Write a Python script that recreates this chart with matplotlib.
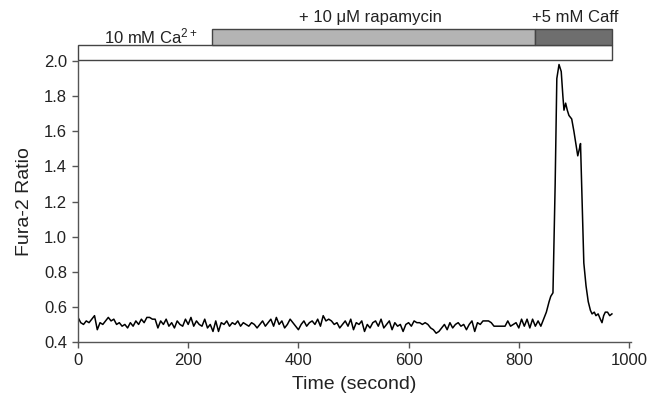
import numpy as np
import matplotlib
matplotlib.use('Agg')
import matplotlib.pyplot as plt
from matplotlib.patches import Rectangle

plt.rcParams['font.family'] = ['Liberation Sans', 'DejaVu Sans']
plt.rcParams['mathtext.fontset'] = 'custom'
plt.rcParams['mathtext.rm'] = 'Liberation Sans'
plt.rcParams['mathtext.it'] = 'Liberation Sans:italic'

# 基线段 0-835 s，每 5 s 一个点
base_t = list(range(0, 840, 5))
base_ratio = [
    0.54, 0.51, 0.50, 0.52, 0.51, 0.53, 0.55, 0.47, 0.51, 0.50,
    0.52, 0.54, 0.52, 0.53, 0.50, 0.51, 0.49, 0.50, 0.48, 0.51,
    0.49, 0.52, 0.50, 0.53, 0.51, 0.54, 0.54, 0.53, 0.53, 0.48,
    0.52, 0.50, 0.53, 0.49, 0.51, 0.48, 0.52, 0.50, 0.49, 0.53,
    0.50, 0.54, 0.49, 0.52, 0.50, 0.49, 0.53, 0.48, 0.50, 0.46,
    0.52, 0.46, 0.51, 0.50, 0.52, 0.49, 0.51, 0.50, 0.52, 0.49,
    0.51, 0.50, 0.49, 0.51, 0.50, 0.48, 0.50, 0.52, 0.49, 0.51,
    0.53, 0.49, 0.54, 0.50, 0.52, 0.48, 0.50, 0.53, 0.51, 0.49,
    0.47, 0.50, 0.52, 0.49, 0.51, 0.52, 0.50, 0.53, 0.49, 0.55,
    0.52, 0.53, 0.52, 0.50, 0.51, 0.48, 0.50, 0.52, 0.49, 0.53,
    0.47, 0.51, 0.50, 0.52, 0.46, 0.50, 0.48, 0.51, 0.52, 0.49,
    0.53, 0.48, 0.50, 0.52, 0.47, 0.51, 0.49, 0.50, 0.46, 0.50,
    0.51, 0.49, 0.52, 0.51, 0.51, 0.50, 0.51, 0.50, 0.48, 0.47,
    0.45, 0.46, 0.48, 0.50, 0.47, 0.51, 0.48, 0.50, 0.51, 0.49,
    0.50, 0.47, 0.50, 0.52, 0.46, 0.51, 0.50, 0.52, 0.52, 0.52,
    0.51, 0.49, 0.49, 0.49, 0.49, 0.49, 0.52, 0.49, 0.50, 0.51,
    0.48, 0.53, 0.49, 0.53, 0.48, 0.53, 0.49, 0.52,
]

# 咖啡因刺激后的峰
peak_t = [840, 845, 850, 855, 858, 862, 866, 869, 873, 877, 880, 882, 885,
          888, 891, 896, 900, 904, 907, 910, 912, 915, 918, 922, 926, 930,
          933, 937, 940, 944, 948, 951, 954, 957, 961, 965, 969]
peak_ratio = [0.49, 0.53, 0.57, 0.63, 0.66, 0.68, 1.30, 1.90, 1.98, 1.94,
              1.80, 1.72, 1.76, 1.72, 1.69, 1.67, 1.60, 1.52, 1.46, 1.50,
              1.53, 1.20, 0.85, 0.72, 0.63, 0.58, 0.56, 0.57, 0.55, 0.56,
              0.53, 0.51, 0.55, 0.57, 0.57, 0.55, 0.56]

# 处理时间段
t_ca = (0, 969)
t_rapa = (243, 829)
t_caff = (829, 969)

t = np.array(base_t + peak_t)
ratio = np.array(base_ratio + peak_ratio)

fig = plt.figure(figsize=(6.51, 4.03), dpi=100)
ax = fig.add_axes([78 / 651, 1 - 342 / 403, 551 * 1.004 / 651, (342 - 61) / 403])

ax.plot(t, ratio, color='black', lw=1.1)

ax.set_xlim(0, 1004)
ax.set_ylim(0.4, 2.0)
ax.set_xticks(range(0, 1001, 200))
ax.set_yticks(np.arange(0.4, 2.01, 0.2))
ax.set_yticklabels([f'{v:.1f}' for v in np.arange(0.4, 2.01, 0.2)])
for s in ['top', 'right']:
    ax.spines[s].set_visible(False)
for s in ['left', 'bottom']:
    ax.spines[s].set_color('#555555')
    ax.spines[s].set_linewidth(1)
ax.tick_params(direction='out', length=4, width=1, color='#555555',
               labelsize=12, labelcolor='#222222', pad=4)
ax.set_xlabel('Time (second)', fontsize=14, color='#222222', labelpad=6)
ax.set_ylabel('Fura-2 Ratio', fontsize=14, color='#222222', labelpad=8)

# 顶部处理条
ax.add_patch(Rectangle((t_ca[0], 2.006), t_ca[1] - t_ca[0], 0.085,
                       facecolor='white', edgecolor='#444444', lw=1, clip_on=False))
ax.add_patch(Rectangle((t_rapa[0], 2.091), t_rapa[1] - t_rapa[0], 0.091,
                       facecolor='#b4b4b4', edgecolor='#444444', lw=1, clip_on=False))
ax.add_patch(Rectangle((t_caff[0], 2.091), t_caff[1] - t_caff[0], 0.091,
                       facecolor='#6e6e6e', edgecolor='#444444', lw=1, clip_on=False))

ax.text(132, 2.14, r'10 mM Ca$^{\mathrm{2+}}$', ha='center', va='center', fontsize=12,
        color='#222222', clip_on=False)
ax.text(530, 2.25, '+ 10 μM rapamycin', ha='center', va='center', fontsize=12,
        color='#222222', clip_on=False)
ax.text(902, 2.25, '+5 mM Caff', ha='center', va='center', fontsize=12,
        color='#222222', clip_on=False)

fig.savefig('out.png', dpi=100)
